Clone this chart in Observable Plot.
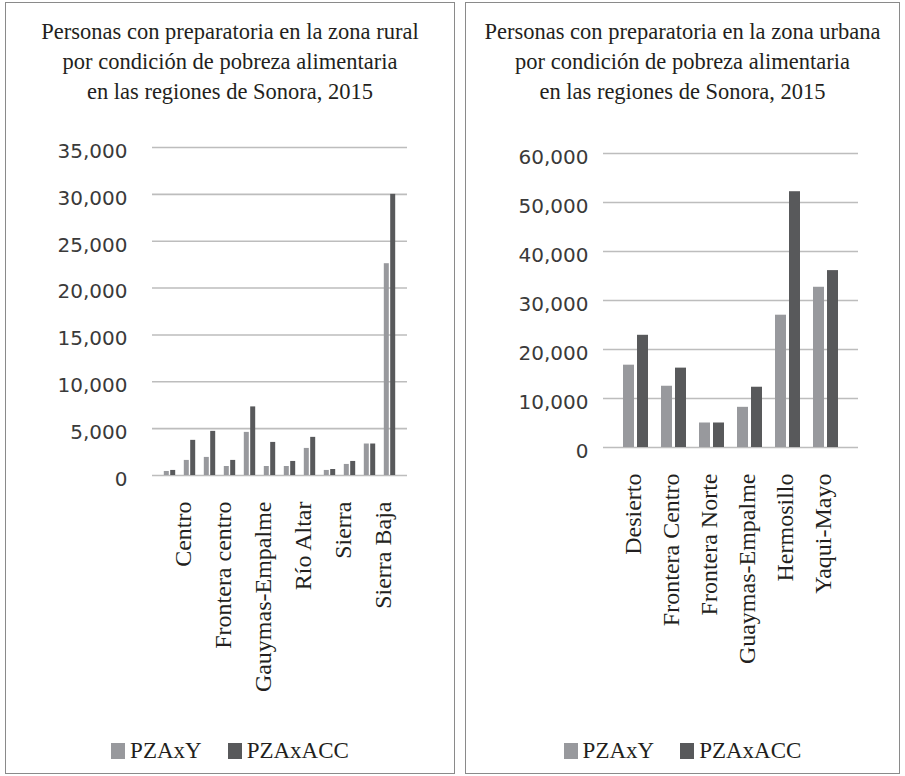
<!DOCTYPE html>
<html>
<head>
<meta charset="utf-8">
<script src="https://cdn.jsdelivr.net/npm/d3@7"></script>
<script src="https://cdn.jsdelivr.net/npm/@observablehq/plot@0.6"></script>
<style>
  html, body { margin: 0; padding: 0; background: #fff; }
  body { width: 905px; height: 776px; position: relative; overflow: hidden; }
  .panel { position: absolute; top: 2px; height: 772px; border: 1px solid #8a8a8a; box-sizing: border-box; }
  .panel svg { position: absolute; left: 0; top: 0; overflow: visible; }
  .title { position: absolute; left: 0; right: 0; top: 14px; text-align: center;
           font-family: "Liberation Serif", "DejaVu Serif", serif; font-size: 22.5px; line-height: 30px; color: #231f20; }
  .legend { position: absolute; left: 0; right: 0; top: 734px; height: 28px; display: flex;
            justify-content: center; align-items: center; gap: 26px;
            font-family: "Liberation Serif", "DejaVu Serif", serif; font-size: 23px; color: #231f20; }
  .legend span.item { display: inline-flex; align-items: center; }
  .legend i { display: inline-block; width: 14px; height: 16px; margin-right: 5px; }
</style>
</head>
<body>
<div class="panel" id="left" style="left:5px; width:450px;">
  <div class="title">Personas con preparatoria en la zona rural<br>por condición de pobreza alimentaria<br>en las regiones de Sonora, 2015</div>
  <div class="legend"></div>
</div>
<div class="panel" id="right" style="left:465px; width:435px;">
  <div class="title">Personas con preparatoria en la zona urbana<br>por condición de pobreza alimentaria<br>en las regiones de Sonora, 2015</div>
  <div class="legend"></div>
</div>
<script>
// ---- Data ----
const seriesNames = ["PZAxY", "PZAxACC"];
const seriesColors = ["#98999d", "#58595b"];

// Rural chart (only every other category is labelled in the original)
const ruralCategories = ["Altar", "Centro", "Desierto", "Frontera centro", "Frontera Norte", "Gauymas-Empalme",
                         "Hermosillo", "Río Altar", "Río Sonora", "Sierra", "Sierra Alta", "Sierra Baja"];
const ruralLabels = ["Centro", "Frontera centro", "Gauymas-Empalme", "Río Altar", "Sierra", "Sierra Baja"];
const ruralPZAxY   = [430, 1610, 1930, 960, 4600, 960, 960, 2890, 540, 1180, 3360, 22600];
const ruralPZAxACC = [540, 3750, 4710, 1610, 7320, 3530, 1500, 4070, 640, 1500, 3360, 30000];
const ruralTicks = [0, 5000, 10000, 15000, 20000, 25000, 30000, 35000];

// Urban chart
const urbanCategories = ["Desierto", "Frontera Centro", "Frontera Norte", "Guaymas-Empalme", "Hermosillo", "Yaqui-Mayo"];
const urbanPZAxY   = [16800, 12500, 5000, 8200, 27000, 32700];
const urbanPZAxACC = [22900, 16200, 5000, 12300, 52200, 36100];
const urbanTicks = [0, 10000, 20000, 30000, 40000, 50000, 60000];

function rows(cats, a, b) {
  return [
    cats.map((c, i) => ({region: c, series: seriesNames[0], value: a[i]})),
    cats.map((c, i) => ({region: c, series: seriesNames[1], value: b[i]}))
  ];
}

function chart({cats, labels, a, b, ticks, width, height, ml, mr, mt, mb, pi, po, dx, yPad, labelDx}) {
  const [r0, r1] = rows(cats, a, b);
  return Plot.plot({
    width, height,
    marginLeft: ml, marginRight: mr, marginTop: mt, marginBottom: mb,
    style: {background: "transparent", color: "#231f20"},
    x: {domain: cats, paddingInner: pi, paddingOuter: po, label: null},
    y: {domain: [ticks[0], ticks[ticks.length - 1]], label: null},
    marks: [
      Plot.gridY(ticks, {stroke: "#bdbdbd", strokeOpacity: 1, strokeWidth: 1.6}),
      Plot.barY(r0, {x: "region", y: "value", fill: seriesColors[0], dx: -dx}),
      Plot.barY(r1, {x: "region", y: "value", fill: seriesColors[1], dx: dx}),
      Plot.axisY({ticks, tickSize: 0, tickPadding: yPad, tickFormat: d3.format(","), dy: 4,
                  fontFamily: "DejaVu Sans", fontSize: 20, fill: "#3a3a3a", label: null}),
      Plot.axisX({ticks: labels, tickSize: 0, tickPadding: 26, tickRotate: -90, dx: labelDx,
                  fontFamily: "Liberation Serif", fontSize: 24, fill: "#231f20", label: null})
    ]
  });
}

const left = chart({cats: ruralCategories, labels: ruralLabels, a: ruralPZAxY, b: ruralPZAxACC, ticks: ruralTicks,
  width: 448, height: 702, ml: 146, mr: 47, mt: 144, mb: 230, pi: 0.76, po: 0.63, dx: 3.2, yPad: 25, labelDx: -7});
const right = chart({cats: urbanCategories, labels: urbanCategories, a: urbanPZAxY, b: urbanPZAxACC, ticks: urbanTicks,
  width: 433, height: 674, ml: 137, mr: 41, mt: 150, mb: 230, pi: 0.7, po: 0.62, dx: 7, yPad: 15, labelDx: -3});

document.getElementById("left").prepend(left);
document.getElementById("right").prepend(right);

for (const id of ["left", "right"]) {
  const lg = document.querySelector("#" + id + " .legend");
  seriesNames.forEach((s, i) => {
    const item = document.createElement("span");
    item.className = "item";
    const sw = document.createElement("i");
    sw.style.background = seriesColors[i];
    item.appendChild(sw);
    item.appendChild(document.createTextNode(s));
    lg.appendChild(item);
  });
}
</script>
</body>
</html>
